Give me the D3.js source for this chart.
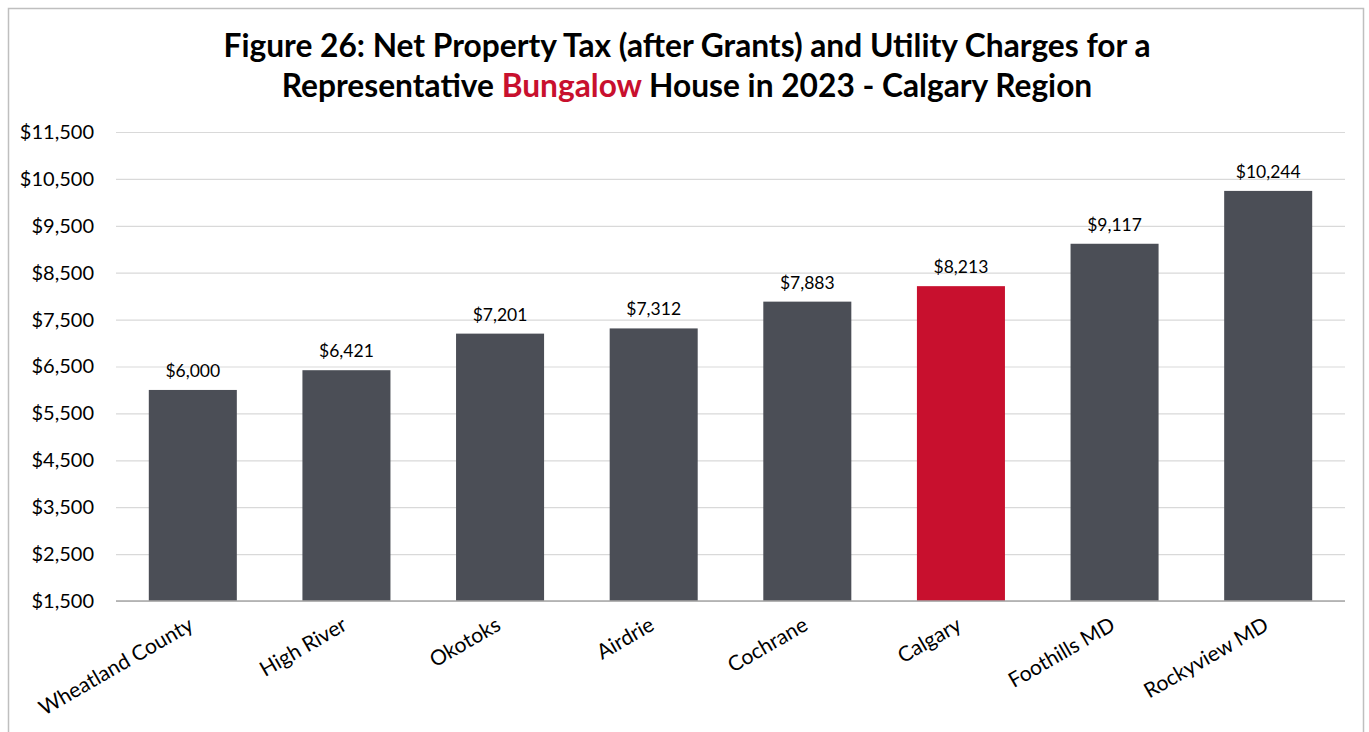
<!DOCTYPE html>
<html>
<head>
<meta charset="utf-8">
<script src="https://cdn.jsdelivr.net/npm/d3@7"></script>
<style>
  body { margin: 0; background: #fff; }
  text { font-family: Lato, "Open Sans", sans-serif; }
</style>
</head>
<body>
<svg id="chart" width="1369" height="732"></svg>
<script>
// data
const places = ['Wheatland County', 'High River', 'Okotoks', 'Airdrie', 'Cochrane', 'Calgary', 'Foothills MD', 'Rockyview MD']
const charges = [6000, 6421, 7201, 7312, 7883, 8213, 9117, 10244]
const highlight = 'Calgary'
const yTicks = [1500, 2500, 3500, 4500, 5500, 6500, 7500, 8500, 9500, 10500, 11500]

const W = 1369
const H = 732
const margin = {top: 132, right: 24, bottom: 131, left: 116}

const svg = d3.select('#chart')

// frame around the chart
svg.append('rect')
  .attr('x', 8.5).attr('y', 8.5)
  .attr('width', 1355).attr('height', 740)
  .attr('fill', 'none')
  .attr('stroke', '#bfbfbf')
  .attr('stroke-width', 1.5)

const x = d3.scaleBand()
  .domain(places)
  .range([margin.left, W - margin.right])
  .paddingInner(0.427)
  .paddingOuter(0.2135)

const y = d3.scaleLinear()
  .domain([1500, 11500])
  .range([H - margin.bottom, margin.top])

// title
const title = svg.append('text')
  .attr('text-anchor', 'middle')
  .attr('font-weight', 'bold')
  .attr('font-size', 31.7)
  .attr('fill', '#000')
title.append('tspan').attr('x', 687).attr('y', 57)
  .text('Figure 26: Net Property Tax (after Grants) and Utility Charges for a')
const line2 = title.append('tspan').attr('x', 687).attr('y', 97)
line2.append('tspan').text('Representative ')
line2.append('tspan').attr('fill', '#c8102e').text('Bungalow')
line2.append('tspan').text(' House in 2023 - Calgary Region')

// gridlines + y labels
const yAxis = svg.append('g')
  .attr('transform', `translate(${margin.left},0)`)
  .call(d3.axisLeft(y)
    .tickValues(yTicks)
    .tickSize(-(W - margin.right - margin.left))
    .tickPadding(22)
    .tickFormat(d => '$' + d3.format(',')(d)))
yAxis.select('.domain').remove()
yAxis.selectAll('.tick line')
  .attr('stroke', '#d9d9d9')
  .attr('stroke-width', 1.2)
yAxis.selectAll('.tick text')
  .attr('font-size', 20)
  .attr('fill', '#000')
  .style('font-family', 'Lato, sans-serif')

// bars
svg.append('g')
  .selectAll('rect')
  .data(places)
  .join('rect')
  .attr('x', d => x(d))
  .attr('width', x.bandwidth())
  .attr('y', (d, i) => y(charges[i]))
  .attr('height', (d, i) => y(1500) - y(charges[i]))
  .attr('fill', d => d === highlight ? '#c8102e' : '#4b4e56')

// value labels
svg.append('g')
  .selectAll('text')
  .data(places)
  .join('text')
  .attr('x', d => x(d) + x.bandwidth() / 2)
  .attr('y', (d, i) => y(charges[i]) - 13)
  .attr('text-anchor', 'middle')
  .attr('font-size', 17.5)
  .attr('fill', '#000')
  .text((d, i) => '$' + d3.format(',')(charges[i]))

// category axis
const xAxis = svg.append('g')
  .attr('transform', `translate(0,${y(1500)})`)
  .call(d3.axisBottom(x).tickSize(0).tickPadding(0))
xAxis.select('.domain')
  .attr('stroke', '#a6a6a6')
  .attr('stroke-width', 1.5)
  .attr('d', `M${margin.left},0H${W - margin.right}`)
xAxis.selectAll('.tick text')
  .attr('font-size', 21)
  .attr('fill', '#000')
  .style('font-family', 'Lato, sans-serif')
  .attr('text-anchor', 'end')
  .attr('dy', null)
  .attr('y', null)
  .attr('transform', 'translate(2,28) rotate(-30)')
</script>
</body>
</html>
